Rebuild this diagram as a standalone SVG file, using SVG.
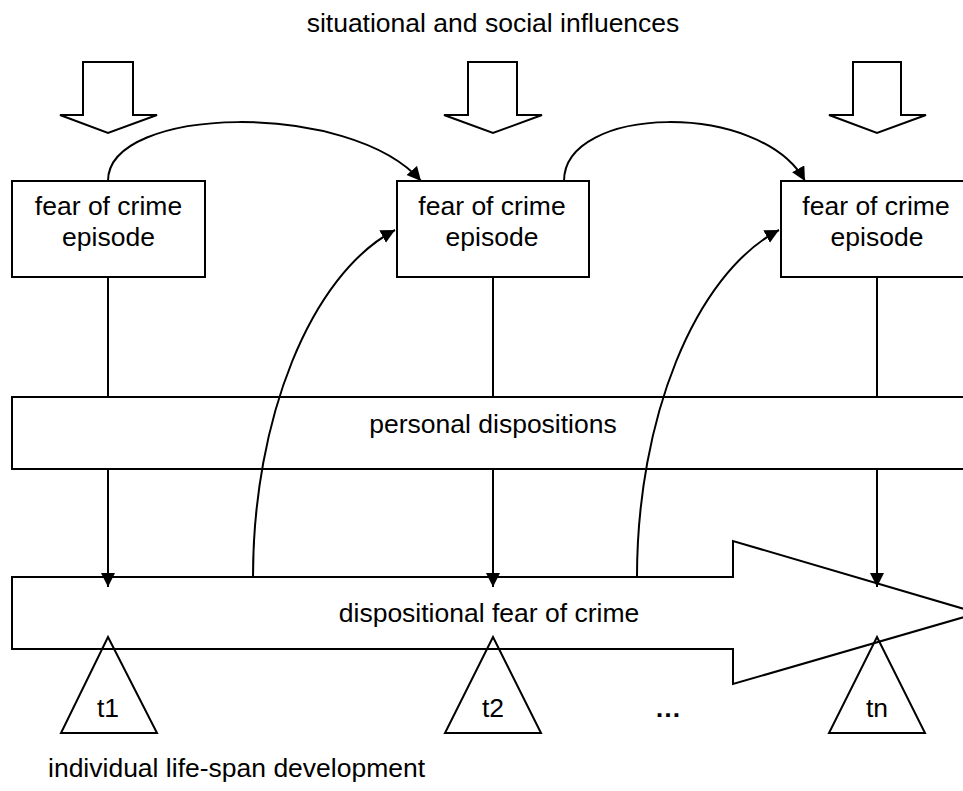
<svg xmlns="http://www.w3.org/2000/svg" width="963" height="791" viewBox="0 0 963 791">
<style>
.s{fill:#fff;stroke:#000;stroke-width:2}
.n{fill:none;stroke:#000;stroke-width:2}
.t{font-family:"Liberation Sans",Arial,sans-serif;font-size:26.5px;fill:#000;text-anchor:middle}
</style>
<defs>
<marker id="ah" markerUnits="userSpaceOnUse" markerWidth="15" markerHeight="15" refX="14" refY="7" orient="auto" viewBox="0 0 15 15">
<path d="M0,0 L14,7 L0,14 z" fill="#000"/>
</marker>
</defs>
<rect width="963" height="791" fill="#fff"/>
<text class="t" x="493" y="32">situational and social influences</text>
<g id="influence1"><polygon class="s" points="83,62 133,62 133,115 157,115 108,133 60,115 83,115"/></g>
<g id="influence2"><polygon class="s" points="468,62 517,62 517,115 542,115 493,133 444,115 468,115"/></g>
<g id="influence3"><polygon class="s" points="853,62 901,62 901,115 926,115 877,133 829,115 853,115"/></g>
<g id="episode1"><rect class="s" x="12" y="181" width="193" height="96"/><text class="t" x="108.5" y="215">fear of crime</text><text class="t" x="108.5" y="246">episode</text></g>
<g id="episode2"><rect class="s" x="397" y="181" width="192" height="96"/><text class="t" x="492" y="215">fear of crime</text><text class="t" x="492" y="246">episode</text></g>
<g id="episode3"><rect class="s" x="781" y="181" width="193" height="96"/><text class="t" x="876" y="215">fear of crime</text><text class="t" x="877" y="246">episode</text></g>
<g id="personal"><rect class="s" x="12" y="397" width="965" height="72"/><text class="t" x="493" y="433">personal dispositions</text></g>
<g id="dispositional"><polygon class="s" points="12,577 733,577 733,541 978,613 733,684 733,649 12,649"/><text class="t" x="489" y="622">dispositional fear of crime</text></g>
<g id="t1"><polygon class="n" points="108,637 157,733 61,733"/><text class="t" x="108" y="717">t1</text></g>
<g id="t2"><polygon class="n" points="493,637 541,733 445,733"/><text class="t" x="493" y="717">t2</text></g>
<g id="tn"><polygon class="n" points="877,637 925,733 829,733"/><text class="t" x="877" y="717">tn</text></g>
<text class="t" x="668" y="717" font-weight="bold">…</text>
<text class="t" x="48" y="777" style="text-anchor:start">individual life-span development</text>
<g id="connectors">
<line class="n" x1="108" y1="277" x2="108" y2="397"/>
<line class="n" x1="493" y1="277" x2="493" y2="397"/>
<line class="n" x1="877" y1="277" x2="877" y2="397"/>
<line class="n" x1="108" y1="469" x2="108" y2="587" marker-end="url(#ah)"/>
<line class="n" x1="493" y1="469" x2="493" y2="587" marker-end="url(#ah)"/>
<line class="n" x1="877" y1="469" x2="877" y2="587" marker-end="url(#ah)"/>
<path class="n" d="M108,181 C108,105 350,100 421,181" marker-end="url(#ah)"/>
<path class="n" d="M564,181 C564,105 760,100 805,181" marker-end="url(#ah)"/>
<path class="n" d="M253,577 C253,420 310,275 395,230" marker-end="url(#ah)"/>
<path class="n" d="M637,577 C637,420 694,275 779,230" marker-end="url(#ah)"/>
</g>
</svg>
